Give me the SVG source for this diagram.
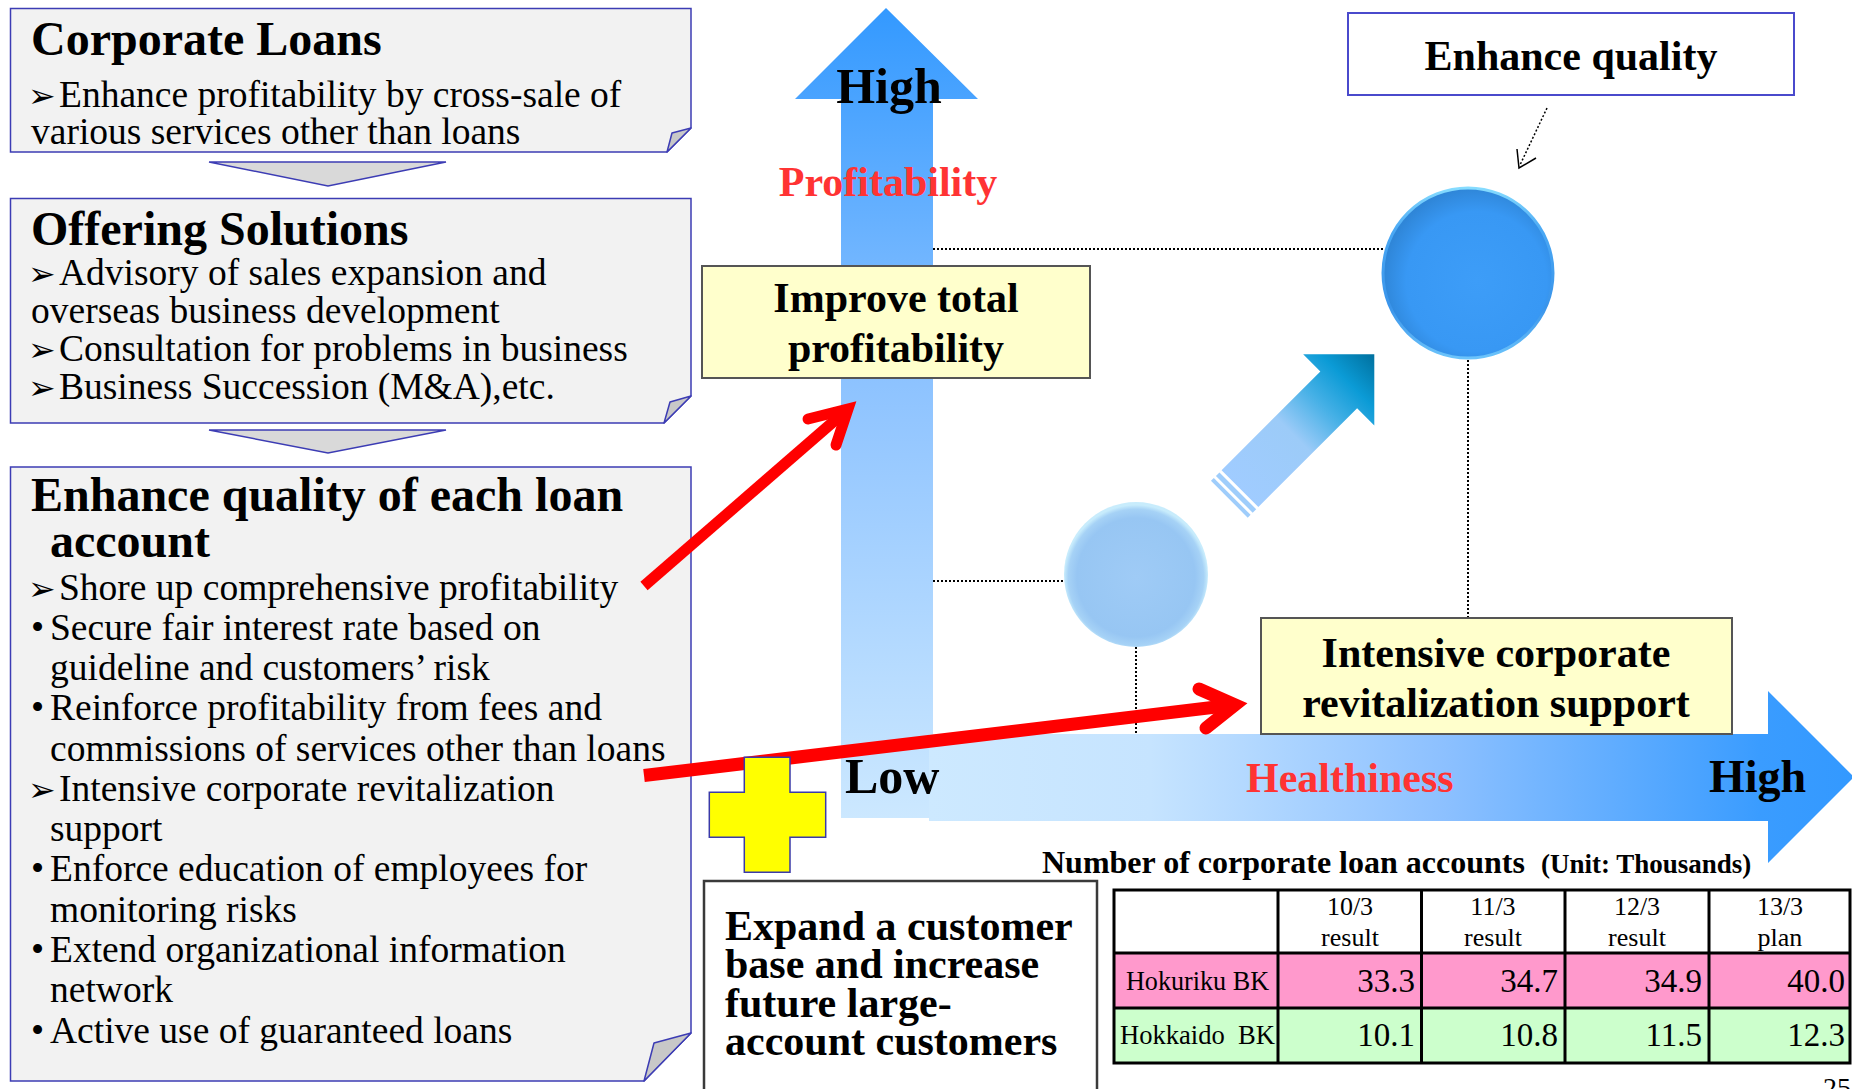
<svg xmlns="http://www.w3.org/2000/svg" width="1852" height="1089" viewBox="0 0 1852 1089">
  <defs>
    <style>
      .t { font-family: 'Liberation Serif', 'Times New Roman', serif; fill: #000; }
      .h { font-size: 48px; font-weight: bold; }
      .b { font-size: 37.5px; }
      .mk { font-family: 'DejaVu Sans', sans-serif; font-size: 33px; }
      .box { fill: #f2f2f2; stroke: #3c3cb4; stroke-width: 1.5; }
      .fold { fill: #c8c8c8; stroke: #3c3cb4; stroke-width: 1.5; stroke-linejoin: round; }
      .chev { fill: #d9d9d9; stroke: #3c3cb4; stroke-width: 1.5; }
      .note { fill: #ffffcc; stroke: #555; stroke-width: 2; }
      .lbl { font-size: 42px; font-weight: bold; text-anchor: middle; }
      .axred { font-size: 42px; font-weight: bold; fill: #ff3333; }
      .axis { font-weight: bold; }
      .dot { stroke: #000; stroke-width: 2; stroke-dasharray: 2 2; fill: none; }
      .red { stroke: #ff0000; fill: none; }
      .grid { stroke: #000; stroke-width: 3; fill: none; }
      .cell { font-size: 27px; }
      .num { font-size: 33px; text-anchor: end; }
      .hd { font-size: 26px; text-anchor: middle; }
      .big { font-size: 42px; font-weight: bold; }
    </style>
    <linearGradient id="gVert" gradientUnits="userSpaceOnUse" x1="0" y1="8" x2="0" y2="818">
      <stop offset="0" stop-color="#3399ff"/>
      <stop offset="0.45" stop-color="#8cc2ff"/>
      <stop offset="1" stop-color="#cce8ff"/>
    </linearGradient>
    <linearGradient id="gHorz" gradientUnits="userSpaceOnUse" x1="929" y1="0" x2="1852" y2="0">
      <stop offset="0" stop-color="#cde9ff"/>
      <stop offset="0.24" stop-color="#c6e4ff"/>
      <stop offset="0.56" stop-color="#8cc0ff"/>
      <stop offset="0.9" stop-color="#3a9cff"/>
      <stop offset="1" stop-color="#3399ff"/>
    </linearGradient>
    <linearGradient id="gDiag" gradientUnits="userSpaceOnUse" x1="-190" y1="0" x2="0" y2="0">
      <stop offset="0" stop-color="#a0ccff"/>
      <stop offset="0.4" stop-color="#9ccbf8"/>
      <stop offset="0.62" stop-color="#45b0e6"/>
      <stop offset="0.8" stop-color="#0b9bd6"/>
      <stop offset="1" stop-color="#00709e"/>
    </linearGradient>
    <radialGradient id="gBig" cx="0.55" cy="0.55" r="0.55">
      <stop offset="0" stop-color="#3d9df8"/>
      <stop offset="0.75" stop-color="#3898f4"/>
      <stop offset="1" stop-color="#2f86d8"/>
    </radialGradient>
    <linearGradient id="gBigRim" x1="0" y1="0" x2="0" y2="1">
      <stop offset="0" stop-color="#86dcff"/>
      <stop offset="0.25" stop-color="#4aa8f4"/>
      <stop offset="0.7" stop-color="#3a94ea"/>
      <stop offset="1" stop-color="#6cc4fb"/>
    </linearGradient>
    <radialGradient id="gSmall" cx="0.5" cy="0.52" r="0.5">
      <stop offset="0" stop-color="#9fcbf6"/>
      <stop offset="0.82" stop-color="#97c6f3"/>
      <stop offset="0.94" stop-color="#a6d2f6"/>
      <stop offset="1" stop-color="#c8ecfc"/>
    </radialGradient>
  </defs>

  <rect width="1852" height="1089" fill="#ffffff"/>

  <!-- left column: three folded notes -->
  <g id="corporate-loans">
    <path class="box" d="M10.5,8.5 H691 V128 L667,152 H10.5 Z"/>
    <path class="fold" d="M667,152 L672,133 L691,128 Z"/>
    <text class="t h" x="31" y="55">Corporate Loans</text>
    <text class="t mk" x="28" y="107">➢</text>
    <text class="t b" x="59" y="107">Enhance profitability by cross-sale of</text>
    <text class="t b" x="31" y="144">various services other than loans</text>
  </g>

  <g id="chevron-1">
    <polygon class="chev" points="209,162 446,162 328,186"/>
  </g>

  <g id="offering-solutions">
    <path class="box" d="M10.5,198.5 H691 V396 L664,423 H10.5 Z"/>
    <path class="fold" d="M664,423 L670,402 L691,396 Z"/>
    <text class="t h" x="31" y="245">Offering Solutions</text>
    <text class="t mk" x="28" y="285">➢</text>
    <text class="t b" x="59" y="285">Advisory of sales expansion and</text>
    <text class="t b" x="31" y="323">overseas business development</text>
    <text class="t mk" x="28" y="361">➢</text>
    <text class="t b" x="59" y="361">Consultation for problems in business</text>
    <text class="t mk" x="28" y="399">➢</text>
    <text class="t b" x="59" y="399">Business Succession (M&amp;A),etc.</text>
  </g>

  <g id="chevron-2">
    <polygon class="chev" points="209,430 446,430 328,453"/>
  </g>

  <g id="enhance-quality-of-each-loan">
    <path class="box" d="M10.5,467 H691 V1033 L644,1081 H10.5 Z"/>
    <path class="fold" d="M644,1081 L654,1043 L691,1033 Z"/>
    <text class="t h" x="31" y="511">Enhance quality of each loan</text>
    <text class="t h" x="50" y="557">account</text>
    <text class="t mk" x="28" y="600">➢</text>
    <text class="t b" x="59" y="600">Shore up comprehensive profitability</text>
    <text class="t b" x="31" y="640">•</text>
    <text class="t b" x="50" y="640">Secure fair interest rate based on</text>
    <text class="t b" x="50" y="680">guideline and customers’ risk</text>
    <text class="t b" x="31" y="720">•</text>
    <text class="t b" x="50" y="720">Reinforce profitability from fees and</text>
    <text class="t b" x="50" y="761">commissions of services other than loans</text>
    <text class="t mk" x="28" y="801">➢</text>
    <text class="t b" x="59" y="801">Intensive corporate revitalization</text>
    <text class="t b" x="50" y="841">support</text>
    <text class="t b" x="31" y="881">•</text>
    <text class="t b" x="50" y="881">Enforce education of employees for</text>
    <text class="t b" x="50" y="922">monitoring risks</text>
    <text class="t b" x="31" y="962">•</text>
    <text class="t b" x="50" y="962">Extend organizational information</text>
    <text class="t b" x="50" y="1002">network</text>
    <text class="t b" x="31" y="1043">•</text>
    <text class="t b" x="50" y="1043">Active use of guaranteed loans</text>
  </g>

  <!-- axes -->
  <g id="axis-profitability">
    <polygon fill="url(#gVert)" points="841,818 841,99 795,99 886,8 978,99 933,99 933,818"/>
    <text class="t axis" x="889" y="103" font-size="50" text-anchor="middle">High</text>
    <text class="t axred" x="888" y="196" text-anchor="middle">Profitability</text>
  </g>

  <g id="axis-healthiness">
    <polygon fill="url(#gHorz)" points="929,734 1768,734 1768,691 1854,777 1768,863 1768,821 929,821"/>
    <text class="t axis" x="845" y="793" font-size="50">Low</text>
    <text class="t axred" x="1246" y="792">Healthiness</text>
    <text class="t axis" x="1709" y="792" font-size="46">High</text>
  </g>

  <!-- guide lines -->
  <g id="connectors">
    <line class="dot" x1="933" y1="249" x2="1383" y2="249"/>
    <line class="dot" x1="1468" y1="360" x2="1468" y2="618"/>
    <line class="dot" x1="933" y1="581" x2="1064" y2="581"/>
    <line class="dot" x1="1136" y1="647" x2="1136" y2="734"/>
    <line x1="1547" y1="108" x2="1520" y2="165" stroke="#000" stroke-width="1.5" stroke-dasharray="2 2"/>
    <polyline points="1517,149 1519,168 1536,158" fill="none" stroke="#000" stroke-width="1.5"/>
  </g>

  <g id="circle-current">
    <ellipse cx="1136" cy="574.5" rx="72" ry="72.5" fill="url(#gSmall)"/>
  </g>

  <g id="circle-target">
    <circle cx="1468" cy="273" r="85" fill="url(#gBig)" stroke="url(#gBigRim)" stroke-width="3"/>
  </g>

  <g id="progress-arrow" transform="translate(1374.3,354.3) rotate(-45)">
    <polygon fill="url(#gDiag)" points="0,0 -50.3,50.3 -50.3,26 -190,26 -190,-26 -50.3,-26 -50.3,-50.3"/>
    <rect x="-198" y="-26" width="5" height="52" fill="#9fcdfb"/>
    <rect x="-205" y="-26" width="4" height="52" fill="#9fcdfb"/>
  </g>

  <g id="enhance-quality">
    <rect x="1348" y="13" width="446" height="82" fill="#ffffff" stroke="#4a4acc" stroke-width="2"/>
    <text class="t lbl" x="1571" y="70">Enhance quality</text>
  </g>

  <g id="improve-total-profitability">
    <rect class="note" x="702" y="266" width="388" height="112"/>
    <text class="t lbl" x="896" y="312">Improve total</text>
    <text class="t lbl" x="896" y="362">profitability</text>
  </g>

  <g id="intensive-support">
    <rect class="note" x="1261" y="618" width="471" height="116"/>
    <text class="t lbl" x="1496" y="667">Intensive corporate</text>
    <text class="t lbl" x="1496" y="717">revitalization support</text>
  </g>

  <!-- red links from the left note -->
  <g id="red-links">
    <line class="red" x1="644" y1="586" x2="848" y2="409" stroke-width="11"/>
    <polyline class="red" points="808,419 848,409 836,445" stroke-width="11" stroke-linecap="round" stroke-linejoin="miter"/>
    <line class="red" x1="644" y1="775.5" x2="1235" y2="704.8" stroke-width="13"/>
    <polyline class="red" points="1199,689 1235,704.8 1206,728" stroke-width="13" stroke-linecap="round" stroke-linejoin="miter"/>
  </g>

  <g id="plus">
    <path d="M744.3,757.3 H790 V792.3 H825.7 V837.3 H790 V872.3 H744.3 V837.3 H709.3 V792.3 H744.3 Z" fill="#ffff00" stroke="#3a3aa8" stroke-width="1.5"/>
  </g>

  <g id="expand-customer-base">
    <rect x="704" y="881" width="393" height="220" fill="#ffffff" stroke="#3a3a3a" stroke-width="2.5"/>
    <text class="t big" x="725" y="940">Expand a customer</text>
    <text class="t big" x="725" y="978">base and increase</text>
    <text class="t big" x="725" y="1017">future large-</text>
    <text class="t big" x="725" y="1055">account customers</text>
  </g>

  <!-- account table -->
  <g id="account-table">
    <text class="t" x="1042" y="873" font-size="32" font-weight="bold">Number of corporate loan accounts</text>
    <text class="t" x="1541" y="873" font-size="27" font-weight="bold">(Unit: Thousands)</text>
    <rect x="1114" y="890" width="736" height="63" fill="#ffffff"/>
    <rect x="1114" y="953" width="736" height="55" fill="#ff99cc"/>
    <rect x="1114" y="1008" width="736" height="55" fill="#ccffcc"/>
    <rect class="grid" x="1114" y="890" width="736" height="173"/>
    <line class="grid" x1="1114" y1="953" x2="1850" y2="953"/>
    <line class="grid" x1="1114" y1="1008" x2="1850" y2="1008"/>
    <line class="grid" x1="1278" y1="890" x2="1278" y2="1063"/>
    <line class="grid" x1="1421.5" y1="890" x2="1421.5" y2="1063"/>
    <line class="grid" x1="1565" y1="890" x2="1565" y2="1063"/>
    <line class="grid" x1="1709" y1="890" x2="1709" y2="1063"/>

    <text class="t hd" x="1350" y="915">10/3</text>
    <text class="t hd" x="1350" y="946">result</text>
    <text class="t hd" x="1493" y="915">11/3</text>
    <text class="t hd" x="1493" y="946">result</text>
    <text class="t hd" x="1637" y="915">12/3</text>
    <text class="t hd" x="1637" y="946">result</text>
    <text class="t hd" x="1780" y="915">13/3</text>
    <text class="t hd" x="1780" y="946">plan</text>

    <text class="t cell" x="1126" y="990" textLength="143" lengthAdjust="spacingAndGlyphs">Hokuriku BK</text>
    <text class="t num" x="1415" y="992">33.3</text>
    <text class="t num" x="1558" y="992">34.7</text>
    <text class="t num" x="1702" y="992">34.9</text>
    <text class="t num" x="1845" y="992">40.0</text>

    <text class="t cell" x="1120" y="1044" textLength="155" lengthAdjust="spacingAndGlyphs">Hokkaido&#160; BK</text>
    <text class="t num" x="1415" y="1046">10.1</text>
    <text class="t num" x="1558" y="1046">10.8</text>
    <text class="t num" x="1702" y="1046">11.5</text>
    <text class="t num" x="1845" y="1046">12.3</text>
  </g>

  <text class="t" x="1823" y="1097" font-size="28">25</text>
</svg>
